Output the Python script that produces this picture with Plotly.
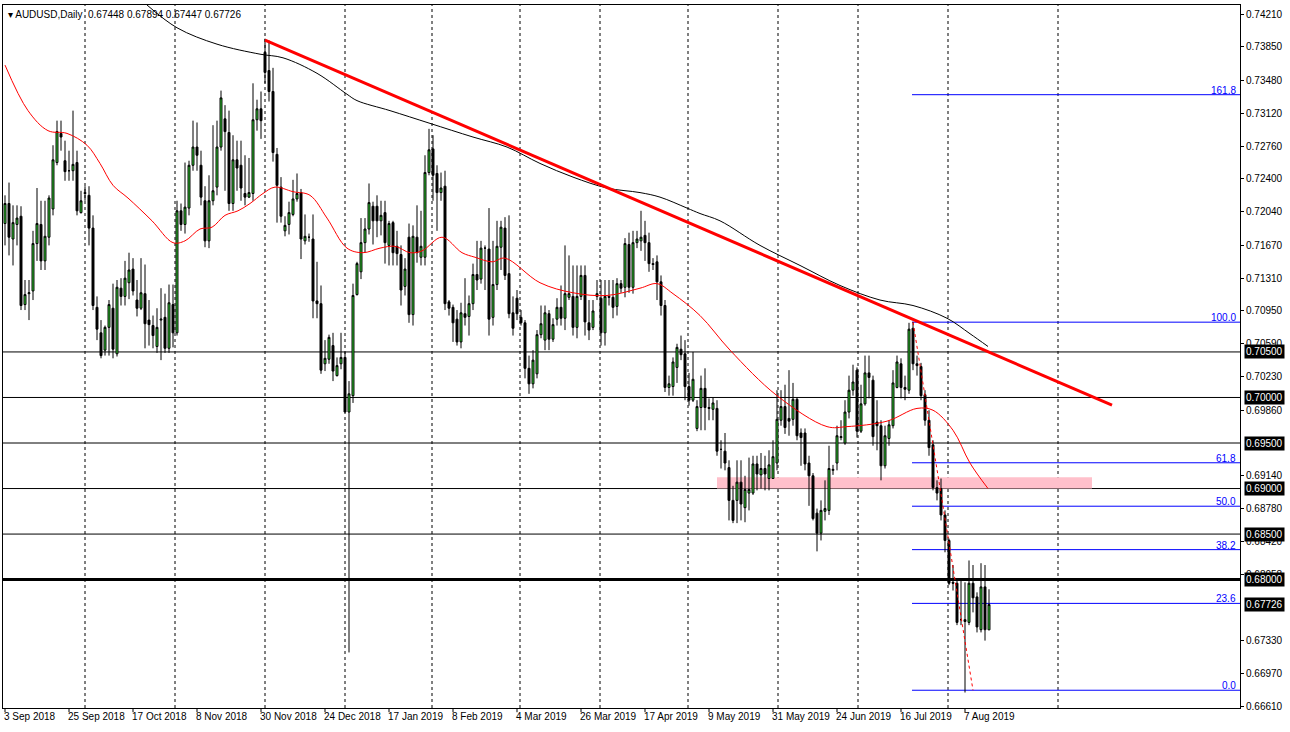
import plotly.graph_objects as go

opens = [.7191,.7213,.7174,.7190,.7199,.7102,.7114,.7117,.7169,.7190,.7150,.7176,.7207,.7258,.7290,.7260,.7249,.7249,.7258,.7203,
 .7225,.7222,.7186,.7099,.7071,.7052,.7077,.7098,.7048,.7120,.7111,.7126,.7141,.7107,.7098,.7114,.7085,.7079,.7056,.7085,
 .7088,.7054,.7102,.7071,.7205,.7190,.7208,.7255,.7275,.7255,.7216,.7172,.7216,.7231,.7275,.7306,.7291,.7213,.7261,.7255,
 .7224,.7220,.7224,.7305,.7317,.7379,.7359,.7336,.7267,.7231,.7183,.7190,.7201,.7218,.7225,.7172,.7176,.7174,.7106,.7103,
 .7037,.7042,.7057,.7024,.7037,.7044,.6984,.7002,.7113,.7138,.7170,.7185,.7210,.7210,.7194,.7203,.7167,.7192,.7166,.7157,
 .7122,.7176,.7091,.7176,.7154,.7154,.7247,.7273,.7246,.7225,.7232,.7105,.7099,.7086,.7061,.7092,.7089,.7103,.7135,.7130,
 .7164,.7163,.7088,.7124,.7165,.7186,.7136,.7093,.7109,.7088,.7082,.7032,.7015,.7026,.7069,.7063,.7092,.7064,.7086,.7099,
 .7087,.7110,.7111,.7077,.7111,.7134,.7082,.7077,.7111,.7109,.7071,.7111,.7110,.7100,.7125,.7121,.7168,.7121,.7170,.7172,
 .7178,.7170,.7147,.7149,.7127,.7101,.7011,.7012,.7033,.7053,.7048,.7012,.6997,.6966,.6989,.7010,.6989,.6987,.6988,.6943,
 .6941,.6923,.6887,.6887,.6907,.6879,.6895,.6895,.6927,.6915,.6922,.6911,.6911,.6928,.6975,.6990,.6977,.6976,.6998,.6961,
 .6961,.6928,.6914,.6873,.6851,.6875,.6876,.6920,.6928,.6956,.6950,.6984,.7008,.7030,.6963,.6993,.7027,.7019,.6973,.6969,
 .6925,.6955,.6969,.7011,.7037,.7011,.7008,.7076,.7037,.7034,.7003,.6975,.6948,.6901,.6900,.6871,.6843,.6797,.6796,.6756,
 .6756,.6753,.6796,.6781,.6745,.6792,.67448]
highs = [.7222,.7236,.7211,.7211,.7210,.7129,.7129,.7183,.7230,.7216,.7216,.7222,.7277,.7304,.7304,.7282,.7271,.7315,.7271,.7227,
 .7232,.7232,.7200,.7111,.7085,.7079,.7107,.7125,.7129,.7131,.7150,.7159,.7153,.7129,.7153,.7146,.7107,.7090,.7098,.7120,
 .7114,.7124,.7124,.7216,.7213,.7258,.7260,.7304,.7302,.7271,.7232,.7244,.7299,.7304,.7337,.7321,.7315,.7288,.7282,.7282,
 .7266,.7263,.7345,.7327,.7336,.7394,.7392,.7362,.7274,.7242,.7199,.7215,.7239,.7246,.7229,.7201,.7180,.7201,.7149,.7123,
 .7063,.7069,.7071,.7044,.7071,.7050,.7018,.7125,.7149,.7197,.7197,.7235,.7215,.7222,.7216,.7216,.7194,.7194,.7183,.7167,
 .7153,.7191,.7189,.7211,.7205,.7266,.7295,.7288,.7255,.7247,.7249,.7107,.7102,.7096,.7104,.7131,.7112,.7147,.7172,.7172,
 .7167,.7208,.7172,.7194,.7194,.7198,.7200,.7111,.7118,.7096,.7085,.7046,.7052,.7074,.7101,.7101,.7096,.7087,.7109,.7123,
 .7167,.7156,.7145,.7145,.7145,.7145,.7107,.7107,.7129,.7129,.7129,.7129,.7129,.7131,.7129,.7175,.7181,.7183,.7183,.7205,
 .7194,.7181,.7153,.7156,.7134,.7107,.7024,.7044,.7059,.7068,.7063,.7027,.7050,.6997,.7024,.7032,.6999,.7000,.6997,.6953,
 .6961,.6931,.6903,.6931,.6931,.6914,.6934,.6936,.6936,.6939,.6936,.6942,.6953,.7008,.7008,.7014,.7030,.7016,.7000,.6966,
 .6966,.6936,.6917,.6878,.6887,.6909,.6947,.6926,.6969,.6975,.6997,.7024,.7036,.7033,.7014,.7046,.7046,.7024,.6997,.6975,
 .6969,.6975,.7030,.7046,.7043,.7024,.7082,.7083,.7046,.7038,.7008,.6986,.6953,.6909,.6911,.6876,.6845,.6816,.6799,.6799,
 .6797,.6821,.6816,.6786,.6818,.6816,.67894]
lows = [.7167,.7156,.7145,.7167,.7096,.7096,.7085,.7107,.7150,.7140,.7140,.7167,.7200,.7255,.7271,.7238,.7238,.7238,.7200,.7202,
 .7216,.7167,.7096,.7063,.7043,.7046,.7046,.7043,.7045,.7101,.7101,.7108,.7112,.7089,.7096,.7054,.7057,.7054,.7049,.7041,
 .7049,.7049,.7055,.7068,.7183,.7180,.7200,.7249,.7249,.7211,.7165,.7164,.7211,.7222,.7271,.7227,.7205,.7205,.7227,.7216,
 .7211,.7219,.7216,.7293,.7284,.7345,.7325,.7259,.7192,.7192,.7177,.7179,.7199,.7215,.7152,.7168,.7171,.7087,.7087,.7026,
 .7029,.7037,.7018,.7023,.7031,.6984,.6720,.6994,.7112,.7130,.7159,.7179,.7168,.7176,.7178,.7147,.7145,.7145,.7145,.7101,
 .7112,.7082,.7079,.7148,.7145,.7145,.7244,.7216,.7183,.7216,.7096,.7090,.7061,.7057,.7054,.7079,.7068,.7096,.7118,.7125,
 .7118,.7068,.7079,.7118,.7140,.7129,.7087,.7068,.7085,.7079,.7021,.7004,.7010,.7021,.7065,.7052,.7052,.7061,.7079,.7079,
 .7074,.7107,.7068,.7065,.7107,.7068,.7063,.7074,.7107,.7057,.7057,.7101,.7087,.7090,.7115,.7110,.7115,.7114,.7164,.7161,
 .7150,.7138,.7140,.7107,.7090,.7006,.7002,.7002,.7016,.7041,.6997,.6991,.6995,.6963,.6964,.6964,.6975,.6975,.6936,.6922,
 .6920,.6865,.6862,.6862,.6865,.6863,.6876,.6893,.6898,.6900,.6898,.6898,.6911,.6920,.6969,.6960,.6958,.6969,.6953,.6925,
 .6920,.6881,.6865,.6831,.6843,.6865,.6871,.6915,.6920,.6953,.6948,.6977,.7002,.6956,.6961,.6991,.6999,.6947,.6942,.6909,
 .6922,.6947,.6966,.7010,.6999,.6997,.7004,.7030,.7024,.6997,.6969,.6936,.6898,.6887,.6865,.6830,.6794,.6788,.6750,.6750,
 .6676,.6750,.6764,.6742,.6742,.6733,.67447]
closes = [.7213,.7176,.7192,.7197,.7101,.7113,.7115,.7169,.7191,.7150,.7177,.7219,.7261,.7292,.7286,.7248,.7249,.7256,.7205,.7216,
 .7224,.7186,.7101,.7075,.7046,.7077,.7102,.7053,.7121,.7111,.7131,.7140,.7117,.7098,.7115,.7081,.7080,.7068,.7077,.7086,
 .7054,.7104,.7071,.7205,.7190,.7209,.7255,.7275,.7266,.7220,.7172,.7216,.7227,.7275,.7329,.7292,.7213,.7261,.7252,.7230,
 .7220,.7225,.7305,.7317,.7304,.7357,.7336,.7269,.7233,.7199,.7189,.7203,.7218,.7224,.7174,.7177,.7176,.7106,.7103,.7030,
 .7043,.7066,.7029,.7035,.7044,.6984,.7004,.7112,.7147,.7170,.7185,.7214,.7194,.7194,.7200,.7170,.7191,.7159,.7158,.7118,
 .7141,.7091,.7177,.7159,.7166,.7247,.7272,.7244,.7225,.7230,.7103,.7098,.7082,.7061,.7093,.7088,.7103,.7135,.7129,.7164,
 .7164,.7086,.7124,.7166,.7187,.7134,.7092,.7076,.7092,.7082,.7032,.7015,.7041,.7069,.7081,.7093,.7064,.7080,.7099,.7087,
 .7114,.7114,.7077,.7111,.7134,.7083,.7074,.7095,.7114,.7071,.7111,.7110,.7099,.7125,.7120,.7169,.7121,.7170,.7174,.7176,
 .7170,.7147,.7146,.7127,.7101,.7011,.7015,.7039,.7055,.7047,.7012,.6997,.7020,.6990,.7010,.6989,.6988,.6994,.6941,.6943,
 .6928,.6887,.6865,.6907,.6883,.6899,.6899,.6927,.6916,.6922,.6916,.6926,.6935,.6976,.6990,.6967,.6974,.6998,.6958,.6956,
 .6927,.6914,.6867,.6851,.6876,.6878,.6922,.6921,.6958,.6957,.6984,.7008,.7017,.6963,.6993,.7027,.7022,.6957,.6969,.6925,
 .6958,.6970,.7016,.7039,.7011,.7009,.7075,.7037,.7035,.7002,.6975,.6945,.6901,.6895,.6871,.6843,.6796,.6796,.6753,.6756,
 .6754,.6796,.6780,.6748,.6792,.6745,.67726]

ma_fast_bar = [0,5.75,10.75,15.5,20.5,23.75,27,30.75,36.75,42,45,48.75,51.75,55,58.25,61.25,64.5,67.5,72,76.25,80.5,85.5,89.5,
 93.75,97.5,101.25,104.25,109.25,114.25,117.5,121.75,125,133.75,142,150.5,158.75,163,167,173.75,181.25,193,205.5,210.5,
 220.5,228,232,237,241.25,245.75]
ma_fast_val = [.7365,.7315,.7293,.7290,.7277,.7257,.7233,.7219,.7194,.7170,.7172,.7185,.7187,.7200,.7205,.7213,.7224,.7231,.7226,
 .7222,.7197,.7164,.7159,.7164,.7166,.7159,.7161,.7176,.7159,.7154,.7149,.7153,.7126,.7115,.7112,.7120,.7125,.7114,.7090,
 .7052,.7002,.6968,.6968,.6974,.6988,.6986,.6964,.6928,.6900]
ma_slow_bar = [35.5,43,53,63.75,69.5,78,85.5,88,96.25,106.25,117,125.5,133.75,142,150.5,158.75,163.75,170.5,173.75,178.75,
 188.75,198.75,208.75,218.75,227,235.5,241.25,245.75]
ma_slow_val = [.7431,.7406,.7388,.7377,.7373,.7356,.7333,.7326,.7315,.7301,.7286,.7275,.7257,.7242,.7230,.7225,.7220,.7208,
 .7202,.7194,.7167,.7145,.7123,.7107,.7101,.7087,.7070,.7056]

yticks = [0.74210,0.73850,0.73480,0.73120,0.72760,0.72400,0.72040,0.71670,0.71310,0.70950,0.70590,0.70230,0.69860,
          0.69140,0.68780,0.68420,0.68058,0.67330,0.66970,0.66610]
levels = [0.7050,0.7000,0.6950,0.6900,0.6850]
key_level = 0.6800
last_price = 0.67726
date_labels = ["3 Sep 2018","25 Sep 2018","17 Oct 2018","8 Nov 2018","30 Nov 2018","24 Dec 2018","17 Jan 2019",
               "8 Feb 2019","4 Mar 2019","26 Mar 2019","17 Apr 2019","9 May 2019","31 May 2019","24 Jun 2019",
               "16 Jul 2019","7 Aug 2019"]
date_bars = [0,16,32,48,64,80,96,112,128,144,160,176,192,208,224,240]
grid_bars = [20,42.5,65,85,106.75,128.75,148.75,170.75,193.25,213.25,235.75,263.25]
trend_bars = [65,276.75]
trend_vals = [0.73924,0.69916]
zone_bars = [178,271.75]
zone_vals = [0.6900,0.69125]
fib_low, fib_high = 0.66785, 0.70827
fib_levels = [0.0,23.6,38.2,50.0,61.8,100.0,161.8]
fib_start = 226.75
swing_bars = [227,242]
swing_vals = [0.70827,0.66785]

FONT = "Liberation Sans"
XMAX = 308.75
N = len(closes)
fig = go.Figure()
fig.add_trace(go.Candlestick(x=list(range(N)), open=opens, high=highs, low=lows, close=closes,
    increasing=dict(fillcolor="#33e033", line=dict(color="black", width=1)),
    decreasing=dict(fillcolor="black", line=dict(color="black", width=1)),
    whiskerwidth=0, showlegend=False))
fig.add_trace(go.Scatter(x=ma_fast_bar, y=ma_fast_val, mode="lines", line=dict(color="red", width=1, shape="spline"), showlegend=False))
fig.add_trace(go.Scatter(x=ma_slow_bar, y=ma_slow_val, mode="lines", line=dict(color="black", width=1, shape="spline"), showlegend=False))
fig.add_trace(go.Scatter(x=trend_bars, y=trend_vals, mode="lines", line=dict(color="#ff0000", width=3), showlegend=False))
fig.add_trace(go.Scatter(x=swing_bars, y=swing_vals, mode="lines", line=dict(color="red", width=1, dash="dot"), showlegend=False))

shapes = []
shapes.append(dict(type="rect", xref="x", yref="y", x0=zone_bars[0], x1=zone_bars[1], y0=zone_vals[0], y1=zone_vals[1],
                   fillcolor="#ffc0cb", line=dict(width=0), layer="below"))
for lv in levels:
    shapes.append(dict(type="line", xref="paper", yref="y", x0=0, x1=1, y0=lv, y1=lv, line=dict(color="black", width=1), layer="below"))
shapes.append(dict(type="line", xref="paper", yref="y", x0=0, x1=1, y0=key_level, y1=key_level, line=dict(color="black", width=3), layer="below"))
for g in grid_bars:
    shapes.append(dict(type="line", xref="x", yref="paper", x0=g, x1=g, y0=0, y1=1, line=dict(color="black", width=1, dash="3px,3px"), layer="below"))
ann = []
rng = fib_high - fib_low
for f in fib_levels:
    v = fib_low + rng * f / 100
    shapes.append(dict(type="line", xref="x", yref="y", x0=fib_start, x1=XMAX, y0=v, y1=v, line=dict(color="#0000ff", width=1), layer="below"))
    ann.append(dict(x=XMAX - 0.5, y=v, xref="x", yref="y", text="%.1f" % f, showarrow=False, xanchor="right", yanchor="bottom",
                    font=dict(color="#0000ff", size=10, family=FONT), yshift=-3))
for lab, b in zip(date_labels, date_bars):
    ann.append(dict(x=b, y=0, xref="x", yref="paper", text=lab, showarrow=False, xanchor="left", yanchor="top",
                    font=dict(color="black", size=10, family=FONT), xshift=-3, yshift=-1))
    shapes.append(dict(type="line", xref="x", yref="paper", x0=b, x1=b, y0=0, y1=-0.006, line=dict(color="black", width=1)))
for lv in levels + [key_level, last_price]:
    ann.append(dict(x=1, y=lv, xref="paper", yref="y", text="%.5f" % lv, showarrow=False, xanchor="left", yanchor="middle",
                    bgcolor="black", font=dict(color="white", size=10, family=FONT), xshift=4, borderpad=1))
ann.append(dict(x=0, y=1, xref="paper", yref="paper", text="▾ AUDUSD,Daily  0.67448 0.67894 0.67447 0.67726", showarrow=False,
                xanchor="left", yanchor="top", font=dict(color="black", size=10, family=FONT), xshift=3, yshift=-2))

fig.update_layout(width=1290, height=732, margin=dict(l=3, r=50, t=5, b=24), paper_bgcolor="white", plot_bgcolor="white",
    shapes=shapes, annotations=ann,
    xaxis=dict(range=[-0.5, XMAX], showgrid=False, showticklabels=False, zeroline=False, rangeslider=dict(visible=False),
               showline=True, linecolor="black", mirror=True, fixedrange=True),
    yaxis=dict(range=[0.6659, 0.7431], side="right", tickvals=yticks, ticktext=["%.5f" % t for t in yticks],
               showgrid=False, zeroline=False, ticks="outside", ticklen=3, tickcolor="black",
               tickfont=dict(size=10, family=FONT, color="black"), showline=True, linecolor="black", mirror=True))
fig.write_html("out.html", config={"displayModeBar": False},
               post_script="document.body.style.margin='0';document.body.style.overflow='hidden';window.dispatchEvent(new Event('resize'));")
